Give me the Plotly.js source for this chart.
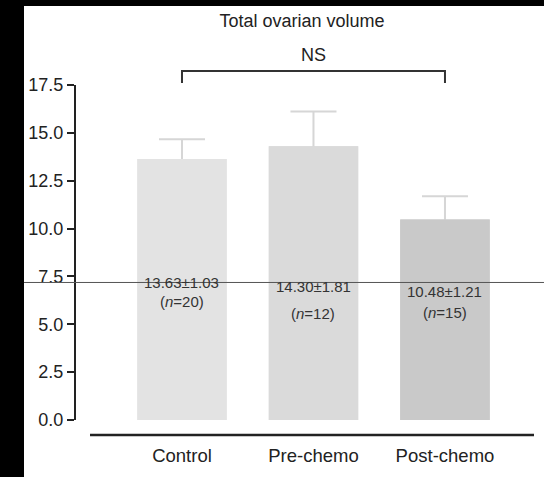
<!DOCTYPE html>
<html>
<head>
<meta charset="utf-8">
<script src="https://cdn.plot.ly/plotly-3.0.1.min.js"></script>
<style>
html, body { margin:0; padding:0; background:#000; width:544px; height:477px; overflow:hidden; }
#chart { position:absolute; left:24px; top:6px; width:520px; height:471px; background:#fff; }
</style>
</head>
<body>
<div id="chart"></div>
<script>
// ---- data ----
var categories = ['Control', 'Pre-chemo', 'Post-chemo'];
var means = [13.63, 14.30, 10.48];
var sems = [1.03, 1.81, 1.21];
var counts = [20, 12, 15];
var barColors = ['#e3e3e3', '#dadada', '#c9c9c9'];
var yTicks = [0, 2.5, 5, 7.5, 10, 12.5, 15, 17.5];
var chartTitle = 'Total ovarian volume';
var sigLabel = 'NS';

var font = 'Arial, "Liberation Sans", Helvetica, sans-serif';

// bars with (upper) error bars; a second identical bar trace covers the part inside the bar
var traceErr = {
  type: 'bar', x: categories, y: means, width: 0.68,
  marker: { color: barColors, line: { width: 0 } },
  error_y: { type: 'data', array: sems, symmetric: true, visible: true,
             color: '#d6d6d6', thickness: 2, width: 23 },
  hoverinfo: 'none'
};
var traceBars = {
  type: 'bar', x: categories, y: means, width: 0.68,
  marker: { color: barColors, line: { width: 0 } },
  hoverinfo: 'none'
};

// label placement (layout only)
var line1Y = [7.2, 6.95, 6.72];
var line2Y = [6.18, 5.55, 5.62];

var annotations = [];
categories.forEach(function(c, i) {
  annotations.push({
    x: c, y: line1Y[i], xref: 'x', yref: 'y', showarrow: false,
    text: means[i].toFixed(2) + '\u00b1' + sems[i].toFixed(2),
    font: { family: font, size: 15, color: '#333' }, yanchor: 'middle'
  });
  annotations.push({
    x: c, y: line2Y[i], xref: 'x', yref: 'y', showarrow: false,
    text: '(<i>n</i>=' + counts[i] + ')',
    font: { family: font, size: 15, color: '#333' }, yanchor: 'middle'
  });
});
annotations.push({
  x: 1, y: 1.09, xref: 'x', yref: 'paper', showarrow: false,
  text: sigLabel, font: { family: font, size: 18, color: '#222' }, yanchor: 'middle'
});

var layout = {
  width: 520, height: 471,
  margin: { l: 52, r: 10, t: 79, b: 57 },
  paper_bgcolor: '#fff', plot_bgcolor: '#fff',
  showlegend: false, barmode: 'overlay',
  title: {
    text: chartTitle, x: 0.4934, xref: 'paper', xanchor: 'center',
    y: 0.968, yref: 'container', yanchor: 'middle',
    font: { family: font, size: 18, color: '#222' }
  },
  xaxis: {
    type: 'category', range: [-0.806, 2.677],
    showline: false, ticks: '', showgrid: false, zeroline: false,
    tickfont: { family: font, size: 18.5, color: '#222' },
    ticklabelstandoff: 22
  },
  yaxis: {
    range: [0, 17.5], tickvals: yTicks, tickformat: '.1f',
    showline: true, linecolor: '#222', linewidth: 2,
    ticks: 'outside', ticklen: 7, tickwidth: 2, tickcolor: '#222',
    showgrid: false, zeroline: false,
    tickfont: { family: font, size: 18, color: '#222' }
  },
  shapes: [
    // detached x axis baseline
    { type: 'line', xref: 'paper', yref: 'paper', x0: 0.0306, x1: 1, y0: -0.0448, y1: -0.0448,
      line: { color: '#222', width: 2.5 } },
    // significance bracket
    { type: 'path', xref: 'x', yref: 'paper',
      path: 'M 0 1.006 L 0 1.0418 L 2 1.0418 L 2 1.006',
      line: { color: '#333', width: 2 } },
    // thin horizontal scan line
    { type: 'line', xref: 'paper', yref: 'paper', x0: -0.1135, x1: 1.0218, y0: 0.4105, y1: 0.4105,
      line: { color: '#555', width: 1 }, layer: 'above' }
  ],
  annotations: annotations
};

Plotly.newPlot('chart', [traceErr, traceBars], layout, { staticPlot: true, displayModeBar: false });
</script>
</body>
</html>
